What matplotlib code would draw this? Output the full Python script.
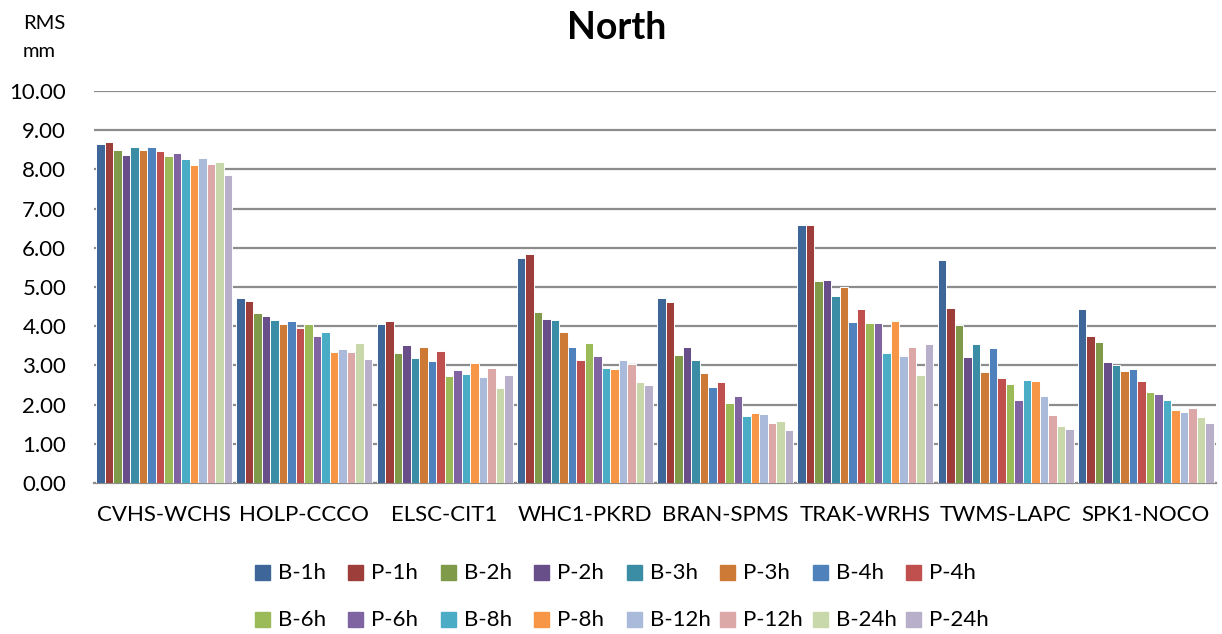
import matplotlib
matplotlib.use("Agg")
import matplotlib.pyplot as plt
from matplotlib.patches import Rectangle
import numpy as np

categories = ["CVHS-WCHS", "HOLP-CCCO", "ELSC-CIT1", "WHC1-PKRD",
              "BRAN-SPMS", "TRAK-WRHS", "TWMS-LAPC", "SPK1-NOCO"]
series_names = ["B-1h", "P-1h", "B-2h", "P-2h", "B-3h", "P-3h", "B-4h", "P-4h",
                "B-6h", "P-6h", "B-8h", "P-8h", "B-12h", "P-12h", "B-24h", "P-24h"]
# values per category (16 series each)
cvhs_wchs = [8.66, 8.70, 8.49, 8.38, 8.56, 8.49, 8.58, 8.47, 8.33, 8.42, 8.26, 8.12, 8.30, 8.14, 8.20, 7.86]
holp_ccco = [4.71, 4.64, 4.34, 4.27, 4.17, 4.06, 4.13, 3.96, 4.06, 3.75, 3.86, 3.34, 3.43, 3.34, 3.57, 3.17]
elsc_cit1 = [4.06, 4.14, 3.31, 3.52, 3.20, 3.47, 3.11, 3.38, 2.72, 2.89, 2.77, 3.06, 2.71, 2.94, 2.43, 2.76]
whc1_pkrd = [5.75, 5.83, 4.36, 4.18, 4.16, 3.86, 3.46, 3.13, 3.56, 3.24, 2.93, 2.90, 3.13, 3.04, 2.58, 2.50]
bran_spms = [4.71, 4.62, 3.26, 3.47, 3.13, 2.81, 2.45, 2.58, 2.04, 2.22, 1.72, 1.78, 1.77, 1.52, 1.58, 1.36]
trak_wrhs = [6.57, 6.57, 5.15, 5.17, 4.78, 5.00, 4.11, 4.43, 4.08, 4.09, 3.31, 4.13, 3.25, 3.46, 2.76, 3.54]
twms_lapc = [5.69, 4.47, 4.02, 3.21, 3.54, 2.83, 3.44, 2.67, 2.52, 2.13, 2.62, 2.61, 2.22, 1.73, 1.46, 1.39]
spk1_noco = [4.43, 3.75, 3.59, 3.08, 3.00, 2.85, 2.92, 2.60, 2.33, 2.26, 2.13, 1.86, 1.81, 1.92, 1.68, 1.52]
yticks = [0, 1, 2, 3, 4, 5, 6, 7, 8, 9, 10]

colors = ["#3F6698", "#9E3E3B", "#7F9A48", "#684F89", "#3A8DA4", "#CC7A35",
          "#4F81BD", "#C0504D", "#9BBB59", "#8064A2", "#4BACC6", "#F79646",
          "#A9BADA", "#DBA8A7", "#C8D8AA", "#B8AFCB"]

data = np.array([cvhs_wchs, holp_ccco, elsc_cit1, whc1_pkrd,
                 bran_spms, trak_wrhs, twms_lapc, spk1_noco])

FONT = ["Lato", "DejaVu Sans"]
plt.rcParams['font.family'] = FONT

W, H = 1222, 634
fig = plt.figure(figsize=(W / 100, H / 100), dpi=100)
ax = fig.add_axes([94 / W, 1 - 483 / H, (1216 - 94) / W, (483 - 91) / H])

n = len(series_names)
slot = 0.97 / n
x = np.arange(len(categories))
for i in range(n):
    ax.bar(x - 0.485 + slot * (i + 0.5), data[:, i], width=slot,
           color=colors[i], edgecolor="white", linewidth=0.7, zorder=3)

ax.set_xlim(-0.5, len(categories) - 0.5)
ax.set_ylim(0, 10)
ax.set_yticks(yticks)
ax.set_yticklabels([f"{v:.2f}" for v in yticks], fontsize=16)
ax.set_xticks(x)
ax.set_xticklabels(categories, fontsize=16)
ax.tick_params(axis="y", length=0, pad=20)
ax.tick_params(axis="x", length=0, pad=16)
ax.yaxis.grid(True, color="#8C8C8C", linewidth=1.6, zorder=0)
for s in ["top", "right", "left"]:
    ax.spines[s].set_visible(False)
ax.spines["bottom"].set_color("#8C8C8C")
ax.spines["bottom"].set_linewidth(1.6)

fig.text(617 / W, 1 - 39 / H, "North", fontsize=27, fontweight="bold",
         ha="center", va="baseline")
fig.text(23 / W, 1 - 29 / H, "RMS", fontsize=14.5, ha="left", va="baseline")
fig.text(23 / W, 1 - 57 / H, "mm", fontsize=14.5, ha="left", va="baseline")

# legend
for i, (name, c) in enumerate(zip(series_names, colors)):
    col, row = i % 8, i // 8
    px = 255 + 93 * col
    py = 573 + 47 * row
    fig.patches.append(Rectangle((px / W, 1 - (py + 7) / H), 15 / W, 15 / H,
                                 transform=fig.transFigure, color=c))
    fig.text((px + 23) / W, 1 - py / H, name, fontsize=16, ha="left", va="center")

fig.savefig("out.png", dpi=100)
